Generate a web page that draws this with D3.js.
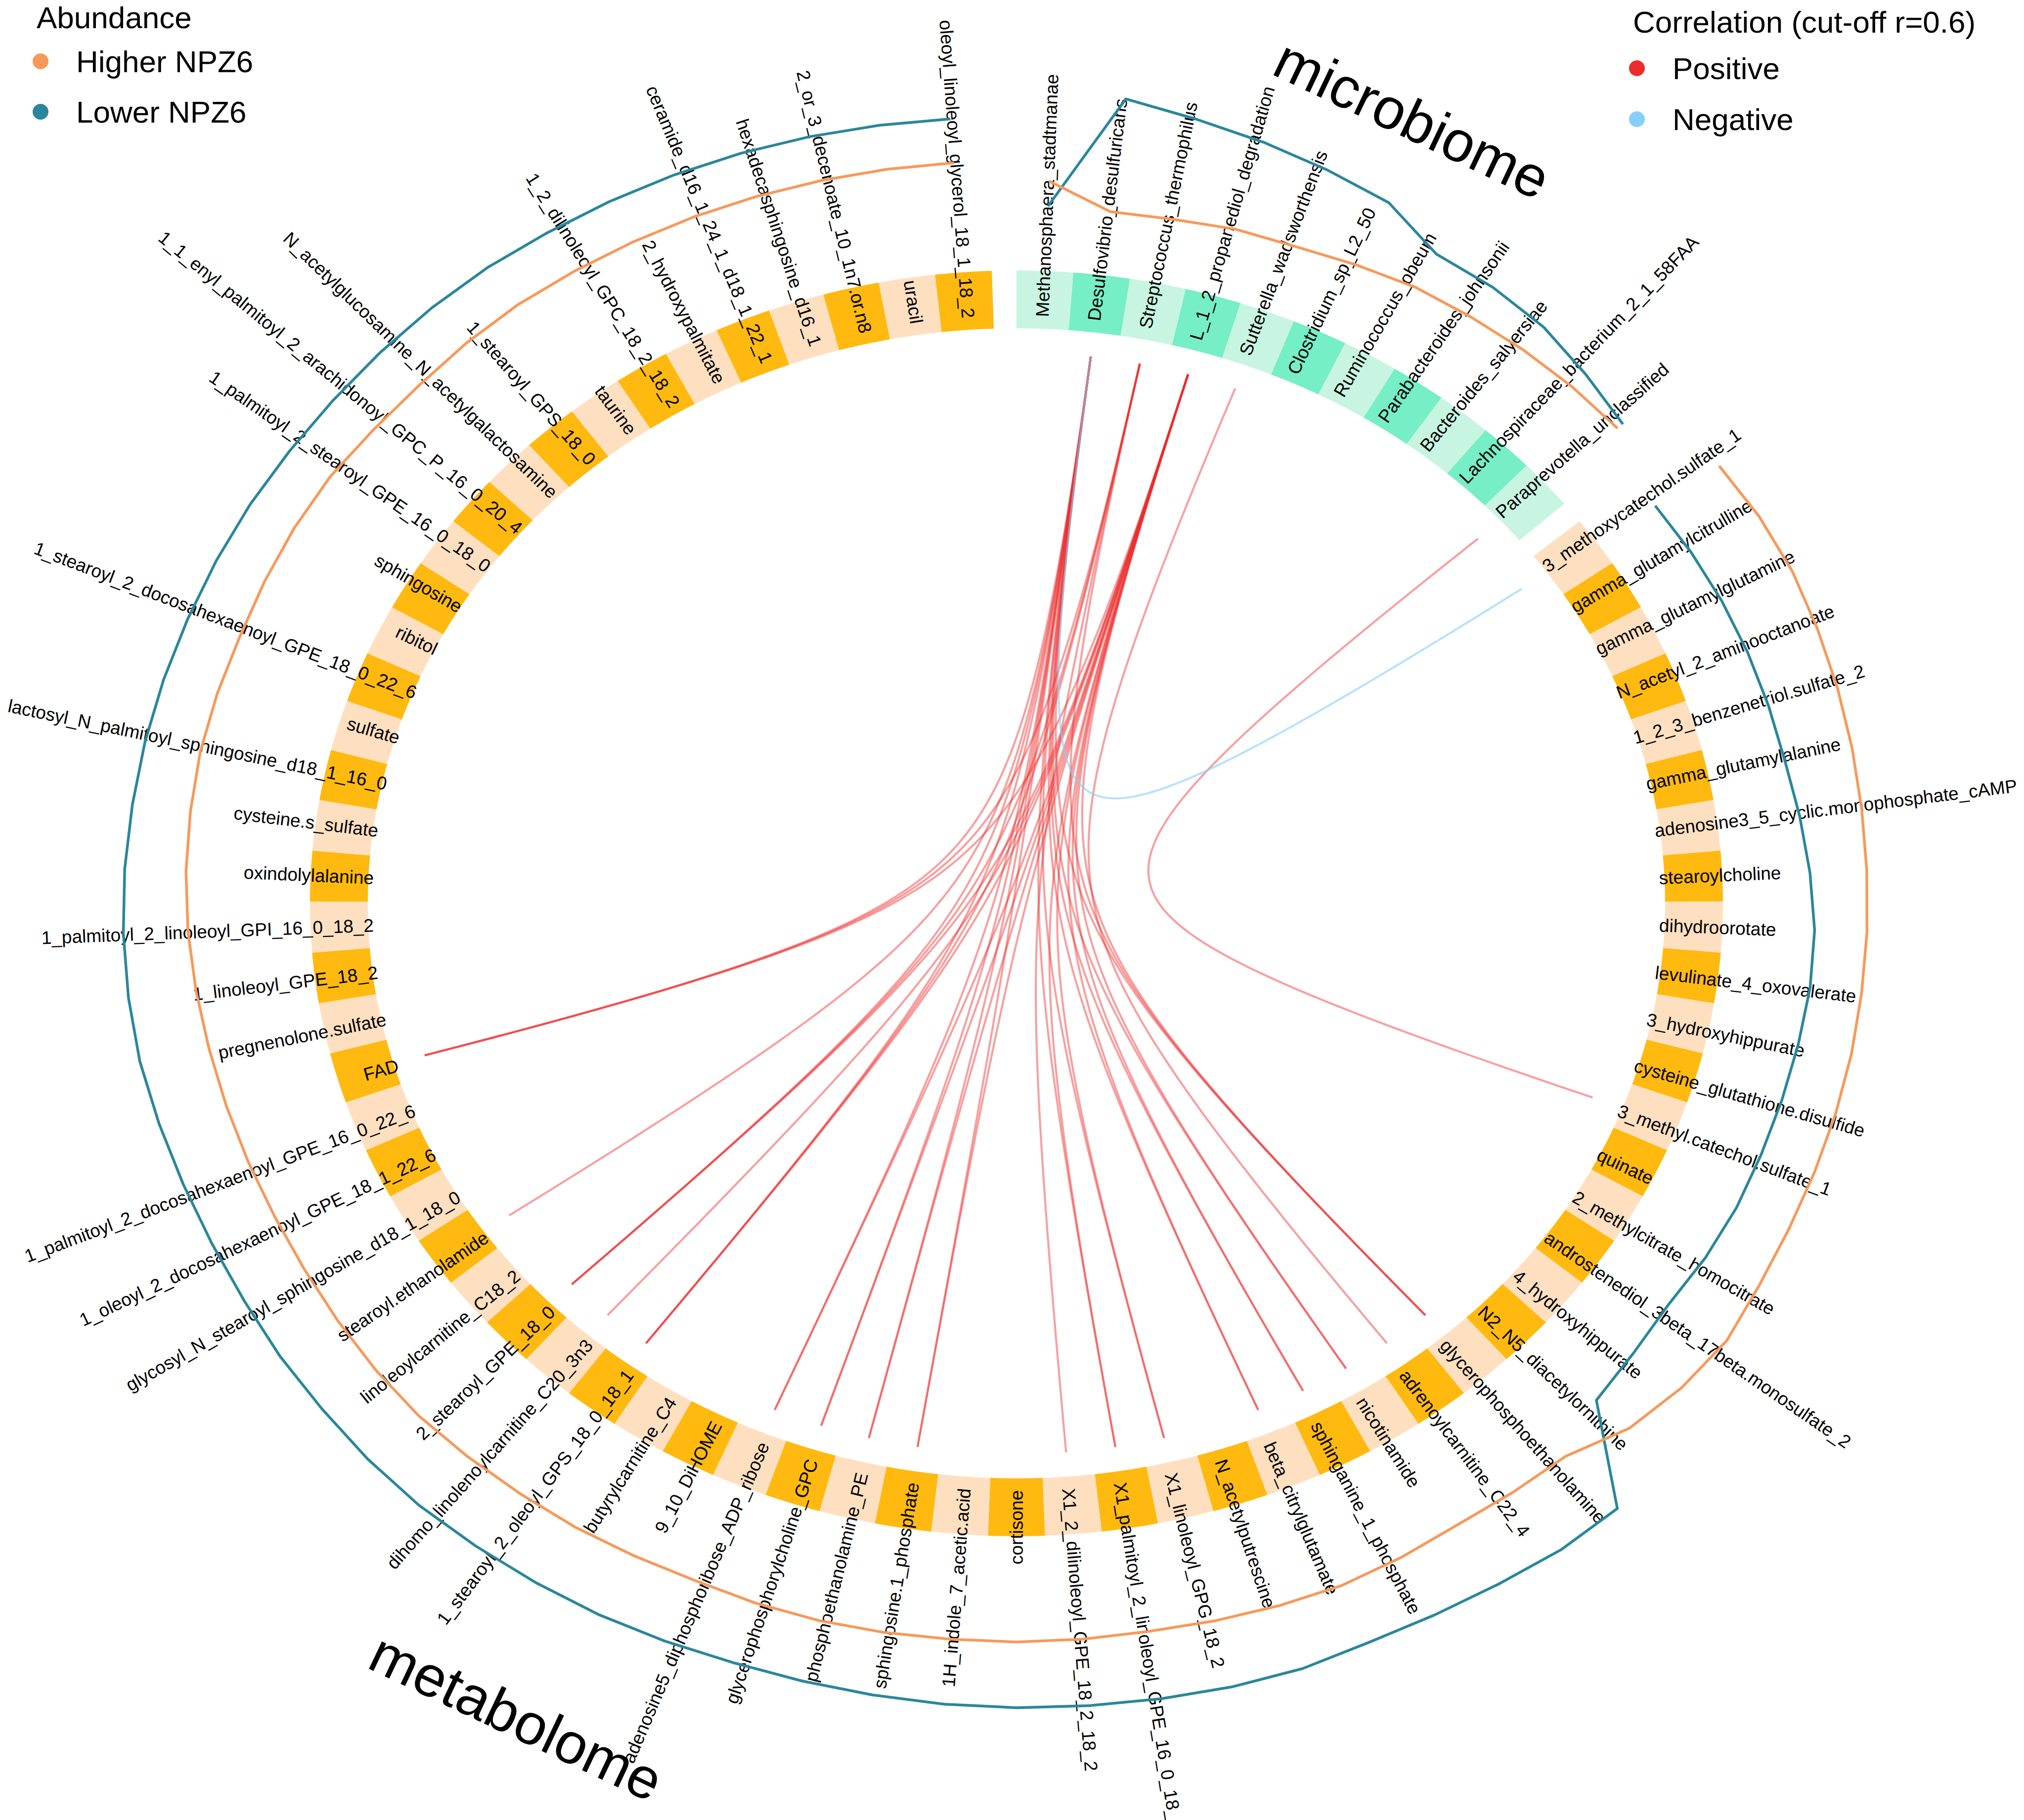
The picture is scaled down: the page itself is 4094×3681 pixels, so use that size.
<!DOCTYPE html>
<html><head><meta charset="utf-8">
<script src="https://cdn.jsdelivr.net/npm/d3@7"></script>
<style>html,body{margin:0;padding:0;background:#fff;} svg{display:block;}</style>
</head><body>
<svg id="chart" width="4094" height="3681"></svg>
<script>
// ---------------- DATA ----------------
const microbes = ["Methanosphaera_stadtmanae","Desulfovibrio_desulfuricans","Streptococcus_thermophilus","L_1_2_propanediol_degradation","Sutterella_wadsworthensis","Clostridium_sp_L2_50","Ruminococcus_obeum","Parabacteroides_johnsonii","Bacteroides_salyersiae","Lachnospiraceae_bacterium_2_1_58FAA","Paraprevotella_unclassified"];

const metabolites = ["3_methoxycatechol.sulfate_1","gamma_glutamylcitrulline","gamma_glutamylglutamine","N_acetyl_2_aminooctanoate","1_2_3_benzenetriol.sulfate_2","gamma_glutamylalanine","adenosine3_5_cyclic.monophosphate_cAMP","stearoylcholine","dihydroorotate","levulinate_4_oxovalerate","3_hydroxyhippurate","cysteine_glutathione.disulfide","3_methyl.catechol.sulfate_1","quinate","2_methylcitrate_homocitrate","androstenediol_3beta_17beta.monosulfate_2","4_hydroxyhippurate","N2_N5_diacetylornithine","glycerophosphoethanolamine","adrenoylcarnitine_C22_4","nicotinamide","sphinganine_1_phosphate","beta_citrylglutamate","N_acetylputrescine","X1_linoleoyl_GPG_18_2","X1_palmitoyl_2_linoleoyl_GPE_16_0_18_2","X1_2_dilinoleoyl_GPE_18_2_18_2","cortisone","1H_indole_7_acetic.acid","sphingosine.1_phosphate","phosphoethanolamine_PE","glycerophosphorylcholine_GPC","adenosine5_diphosphoribose_ADP_ribose","9_10_DiHOME","butyrylcarnitine_C4","1_stearoyl_2_oleoyl_GPS_18_0_18_1","dihomo_linolenoylcarnitine_C20_3n3","2_stearoyl_GPE_18_0","linoleoylcarnitine_C18_2","stearoyl.ethanolamide","glycosyl_N_stearoyl_sphingosine_d18_1_18_0","1_oleoyl_2_docosahexaenoyl_GPE_18_1_22_6","1_palmitoyl_2_docosahexaenoyl_GPE_16_0_22_6","FAD","pregnenolone.sulfate","1_linoleoyl_GPE_18_2","1_palmitoyl_2_linoleoyl_GPI_16_0_18_2","oxindolylalanine","cysteine.s_sulfate","lactosyl_N_palmitoyl_sphingosine_d18_1_16_0","sulfate","1_stearoyl_2_docosahexaenoyl_GPE_18_0_22_6","ribitol","sphingosine","1_palmitoyl_2_stearoyl_GPE_16_0_18_0","1_1_enyl_palmitoyl_2_arachidonoyl_GPC_P_16_0_20_4","N_acetylglucosamine_N_acetylgalactosamine","1_stearoyl_GPS_18_0","taurine","1_2_dilinoleoyl_GPC_18_2_18_2","2_hydroxypalmitate","ceramide_d16_1_24_1_d18_1_22_1","hexadecasphingosine_d16_1","2_or_3_decenoate_10_1n7.or.n8","uracil","oleoyl_linoleoyl_glycerol_18_1_18_2"];

// abundance track values (relative units, 0-100)
const microbeHigher = [27.3, 9.7, 10.7, 13.3, 13.7, 16.7, 20.0, 21.0, 22.3, 23.3, 23.7];
const microbeLower  = [10.3, 86.3, 79.7, 74.3, 68.7, 63.0, 45.7, 45.0, 42.0, 35.0, 28.0];

const metaboliteHigher = [56.3,58.3,58.7,57.3,56.0,54.7,53.7,53.3,53.3,53.3,53.7,54.0,54.3,55.0,56.7,60.0,57.3,51.7,38.7,37.3,36.3,38.3,40.0,39.3,38.3,37.3,37.7,38.0,37.7,38.0,38.0,37.3,36.0,36.7,37.7,38.0,38.7,39.3,38.3,36.7,35.3,34.7,35.0,35.7,36.7,38.3,40.0,41.3,42.0,42.7,42.3,41.7,42.7,43.7,44.0,42.3,41.7,42.7,43.3,42.7,42.3,42.0,41.7,41.3,41.0,40.7];
const metaboliteLower  = [9.3,10.7,11.7,12.3,12.7,13.3,16.0,19.0,21.7,22.0,21.0,20.3,20.0,20.3,19.3,17.3,20.0,24.3,85.7,85.7,83.3,82.0,81.7,84.0,84.0,83.3,82.7,82.3,81.7,80.7,80.0,79.7,80.7,81.7,82.0,82.3,82.7,81.7,80.0,79.0,77.3,76.7,77.0,78.0,79.3,79.3,79.0,78.3,77.3,76.7,76.0,75.3,75.0,74.7,74.0,73.7,74.0,74.3,74.3,73.3,73.0,72.7,72.3,71.7,71.0,70.3];

// correlation links (|r| >= 0.6): [microbe, metabolite, r]
const links = [
  ["Desulfovibrio_desulfuricans","FAD",0.68],
  ["Streptococcus_thermophilus","FAD",0.66],
  ["L_1_2_propanediol_degradation","FAD",0.67],
  ["Desulfovibrio_desulfuricans","stearoyl.ethanolamide",0.62],
  ["Desulfovibrio_desulfuricans","2_stearoyl_GPE_18_0",0.69],
  ["Streptococcus_thermophilus","2_stearoyl_GPE_18_0",0.65],
  ["L_1_2_propanediol_degradation","2_stearoyl_GPE_18_0",0.68],
  ["L_1_2_propanediol_degradation","dihomo_linolenoylcarnitine_C20_3n3",0.62],
  ["Desulfovibrio_desulfuricans","1_stearoyl_2_oleoyl_GPS_18_0_18_1",0.68],
  ["Streptococcus_thermophilus","1_stearoyl_2_oleoyl_GPS_18_0_18_1",0.64],
  ["L_1_2_propanediol_degradation","1_stearoyl_2_oleoyl_GPS_18_0_18_1",0.67],
  ["Desulfovibrio_desulfuricans","adenosine5_diphosphoribose_ADP_ribose",0.65],
  ["L_1_2_propanediol_degradation","adenosine5_diphosphoribose_ADP_ribose",0.64],
  ["Desulfovibrio_desulfuricans","glycerophosphorylcholine_GPC",0.66],
  ["L_1_2_propanediol_degradation","glycerophosphorylcholine_GPC",0.65],
  ["Desulfovibrio_desulfuricans","phosphoethanolamine_PE",0.65],
  ["L_1_2_propanediol_degradation","phosphoethanolamine_PE",0.64],
  ["Desulfovibrio_desulfuricans","sphingosine.1_phosphate",0.66],
  ["L_1_2_propanediol_degradation","sphingosine.1_phosphate",0.65],
  ["Streptococcus_thermophilus","X1_2_dilinoleoyl_GPE_18_2_18_2",0.62],
  ["Desulfovibrio_desulfuricans","X1_palmitoyl_2_linoleoyl_GPE_16_0_18_2",0.63],
  ["L_1_2_propanediol_degradation","X1_palmitoyl_2_linoleoyl_GPE_16_0_18_2",0.63],
  ["Desulfovibrio_desulfuricans","X1_linoleoyl_GPG_18_2",0.64],
  ["L_1_2_propanediol_degradation","X1_linoleoyl_GPG_18_2",0.65],
  ["Desulfovibrio_desulfuricans","beta_citrylglutamate",0.65],
  ["L_1_2_propanediol_degradation","beta_citrylglutamate",0.66],
  ["Desulfovibrio_desulfuricans","sphinganine_1_phosphate",0.64],
  ["L_1_2_propanediol_degradation","sphinganine_1_phosphate",0.66],
  ["Desulfovibrio_desulfuricans","nicotinamide",0.64],
  ["L_1_2_propanediol_degradation","nicotinamide",0.65],
  ["Sutterella_wadsworthensis","adrenoylcarnitine_C22_4",0.62],
  ["Desulfovibrio_desulfuricans","glycerophosphoethanolamine",0.67],
  ["Streptococcus_thermophilus","glycerophosphoethanolamine",0.64],
  ["L_1_2_propanediol_degradation","glycerophosphoethanolamine",0.68],
  ["Paraprevotella_unclassified","3_methyl.catechol.sulfate_1",0.62],
  ["Desulfovibrio_desulfuricans","3_methoxycatechol.sulfate_1",-0.63]
];

const abundanceTitle = "Abundance";
const abundanceLegend = ["Higher NPZ6","Lower NPZ6"];
const correlationTitle = "Correlation (cut-off r=0.6)";
const correlationLegend = ["Positive","Negative"];
const sectorNames = ["microbiome","metabolome"];

// ---------------- STYLE / LAYOUT ----------------
const FONT = "'Liberation Sans', Arial, Helvetica, sans-serif";
const colHigher = "#F7995A", colLower = "#2A879B";
const colPos = "#EE2C2C", colNeg = "#87CEFA";
const metabCols = ["#FEE0C1", "#FFB90F"];
const microCols = ["#C7F5E2", "#76EEC6"];

const svg = d3.select("#chart");
const cx = 2056, cy = 1827, sx = 1.118;
const gapDeg = 2;
const unit = (360 - 2*gapDeg) / (microbes.length + metabolites.length);

const microbeAngle = d3.scaleLinear().domain([0, microbes.length]).range([0, microbes.length*unit]);
const m0 = microbes.length*unit + gapDeg;
const metaboliteAngle = d3.scaleLinear().domain([0, metabolites.length]).range([m0, m0 + metabolites.length*unit]);
const trackR = d3.scaleLinear().domain([0, 100]).range([1380, 1680]);

const rad = d => d*Math.PI/180;
const ell = (t, ax, ay) => [cx + ax*Math.sin(rad(t)), cy - ay*Math.cos(rad(t))];
const pol = (t, r) => ell(t, r*sx, r);
const ringOut = [1429, 1280], ringIn = [1312, 1163];
const textAx = 1301, textAy = 1187;

function segPath(t0, t1){
  const n = 16, pts = [];
  for (let k=0;k<=n;k++) pts.push(ell(t0+(t1-t0)*k/n, ringOut[0], ringOut[1]));
  for (let k=n;k>=0;k--) pts.push(ell(t0+(t1-t0)*k/n, ringIn[0], ringIn[1]));
  return d3.line()(pts) + "Z";
}

const features = [
  ...microbes.map((name,i)=>({name, i, sector:0, t0:microbeAngle(i), t1:microbeAngle(i+1), tc:microbeAngle(i+0.5)})),
  ...metabolites.map((name,i)=>({name, i, sector:1, t0:metaboliteAngle(i), t1:metaboliteAngle(i+1), tc:metaboliteAngle(i+0.5)}))
];
const angleOf = {};
features.forEach(f => angleOf[f.name] = f.tc);
const isFlipped = t => t > 179.9 && t < 359.9;

// ring
svg.append("g").selectAll("path").data(features).join("path")
  .attr("d", f => segPath(f.t0, f.t1))
  .attr("fill", f => (f.sector===0 ? microCols : metabCols)[f.i % 2]);

// labels
svg.append("g").selectAll("text").data(features).join("text")
  .attr("transform", f => {
    const p = ell(f.tc, textAx, textAy);
    return `translate(${p[0]},${p[1]}) rotate(${isFlipped(f.tc) ? f.tc+90 : f.tc-90})`;
  })
  .attr("text-anchor", f => isFlipped(f.tc) ? "end" : "start")
  .attr("dominant-baseline", "central")
  .attr("font-family", FONT).attr("font-size", 37).attr("fill", "#000")
  .text(f => f.name);

// abundance lines
const lineGen = d3.line();
const tracks = [
  {vals: microbeLower, ang: microbeAngle, col: colLower},
  {vals: microbeHigher, ang: microbeAngle, col: colHigher},
  {vals: metaboliteLower, ang: metaboliteAngle, col: colLower},
  {vals: metaboliteHigher, ang: metaboliteAngle, col: colHigher}
];
svg.append("g").selectAll("path").data(tracks).join("path")
  .attr("d", d => lineGen(d.vals.map((v,i) => pol(d.ang(i+0.5), trackR(v)))))
  .attr("fill", "none").attr("stroke", d => d.col).attr("stroke-width", 5.5)
  .attr("stroke-linejoin", "round");

// links: rational quadratic bezier with the control point at the centre
const linkR = 1114, linkW = 2.9;
function linkPath(t1, t2){
  const p0 = [linkR*Math.sin(rad(t1)), linkR*Math.cos(rad(t1))];
  const p2 = [linkR*Math.sin(rad(t2)), linkR*Math.cos(rad(t2))];
  const pts = [];
  const n = 90;
  for (let k=0;k<=n;k++){
    const t = k/n, a = (1-t)*(1-t), b = 2*linkW*t*(1-t), c = t*t, den = a+b+c;
    const x = (a*p0[0] + c*p2[0])/den, y = (a*p0[1] + c*p2[1])/den;
    pts.push([cx + sx*x, cy - y]);
  }
  return d3.line()(pts);
}
const sortedLinks = links.slice().sort((a,b) => (a[2] < 0) - (b[2] < 0));
svg.append("g").selectAll("path").data(sortedLinks).join("path")
  .attr("d", d => linkPath(angleOf[d[0]], angleOf[d[1]]))
  .attr("fill", "none")
  .attr("stroke", d => d[2] > 0 ? colPos : colNeg)
  .attr("stroke-opacity", d => d[2] > 0 ? 0.45 : 0.6)
  .attr("stroke-width", 4.2);

// sector names
const sectorLabel = [
  {name: sectorNames[0], t: 24.3, r: 1740, rot: (microbeAngle(0)+microbeAngle(microbes.length))/2},
  {name: sectorNames[1], t: 208.8, r: 1878, rot: (metaboliteAngle(0)+metaboliteAngle(metabolites.length))/2 - 180}
];
svg.append("g").selectAll("text").data(sectorLabel).join("text")
  .attr("transform", d => { const p = pol(d.t, d.r); return `translate(${p[0]},${p[1]}) rotate(${d.rot})`; })
  .attr("text-anchor", "middle").attr("dominant-baseline", "central")
  .attr("font-family", FONT).attr("font-size", 116).attr("fill", "#000")
  .text(d => d.name);

// legends
function legend(x, titleY, title, items, cols, rowY){
  const g = svg.append("g").attr("font-family", FONT).attr("fill", "#000");
  g.append("text").attr("x", x).attr("y", titleY).attr("dominant-baseline", "central")
    .attr("font-size", 62).text(title);
  items.forEach((t, i) => {
    g.append("circle").attr("cx", x + 8).attr("cy", rowY[i]).attr("r", 16).attr("fill", cols[i]);
    g.append("text").attr("x", x + 80).attr("y", rowY[i]).attr("dominant-baseline", "central")
      .attr("font-size", 62).text(t);
  });
}
legend(74, 35, abundanceTitle, abundanceLegend, [colHigher, colLower], [124, 226]);
legend(3303, 44, correlationTitle, correlationLegend, [colPos, colNeg], [138, 241]);
</script>
</body></html>
